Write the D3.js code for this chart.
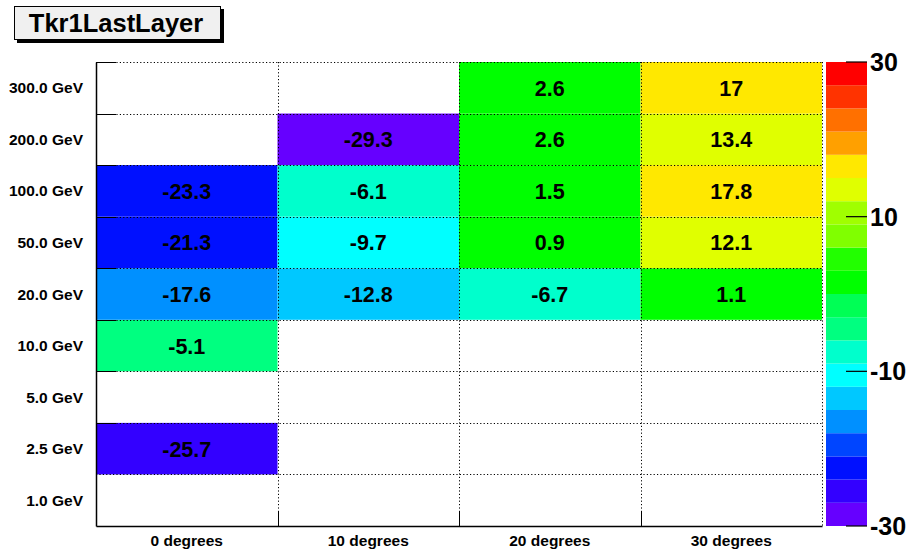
<!DOCTYPE html>
<html><head><meta charset="utf-8">
<script src="https://cdn.jsdelivr.net/npm/d3@7"></script>
<style>body{margin:0;background:#fff}svg{display:block;font-family:"Liberation Sans",Arial,sans-serif}</style>
</head><body>
<svg id="c" width="911" height="555"></svg>
<script>
const title = "Tkr1LastLayer";
const angles = ["0 degrees","10 degrees","20 degrees","30 degrees"];
const energies = ["1.0 GeV","2.5 GeV","5.0 GeV","10.0 GeV","20.0 GeV","50.0 GeV","100.0 GeV","200.0 GeV","300.0 GeV"];
// values per angle, in energy order (bottom to top); null = empty
const deg0  = [null,-25.7,null,-5.1,-17.6,-21.3,-23.3,null,null];
const deg10 = [null,null,null,null,-12.8,-9.7,-6.1,-29.3,null];
const deg20 = [null,null,null,null,-6.7,0.9,1.5,2.6,2.6];
const deg30 = [null,null,null,null,1.1,12.1,17.8,13.4,17];
const zTicks = [-30,-10,10,30];
const zMin = -30, zMax = 30;
const paletteColors = ["#6600ff","#3300ff","#0010ff","#0045ff","#0090ff","#00c8ff","#00ffff","#00ffcc","#00ff80","#00ff55",
                       "#00ff00","#22ff00","#80ff00","#a0ff00","#e0ff00","#ffe800","#ffa000","#ff7000","#ff3300","#ff0000"];

const series = [deg0,deg10,deg20,deg30];
const svg = d3.select("#c");
const L=96, R=822, T=62, B=526;
const x = d3.scaleBand().domain(angles).range([L,R]);
const y = d3.scaleBand().domain(energies).range([B,T]);
const color = d3.scaleQuantize().domain([zMin,zMax]).range(paletteColors);

const cells = [];
series.forEach((s,i)=>s.forEach((v,j)=>{ if(v!==null) cells.push({a:angles[i],e:energies[j],v}); }));

svg.append("g").selectAll("rect").data(cells).join("rect")
  .attr("x",d=>x(d.a)).attr("y",d=>y(d.e)).attr("width",x.bandwidth()).attr("height",y.bandwidth())
  .attr("fill",d=>color(d.v));

// grid (dotted)
const g = svg.append("g").attr("stroke","#000").attr("stroke-width",1).attr("stroke-dasharray","1.2,2.2");
const xb = angles.map(a=>x(a)).slice(1).concat([R]);
const yb = energies.map(e=>y(e));
g.selectAll("line.v").data(xb).join("line").attr("x1",d=>Math.round(d)+0.5).attr("x2",d=>Math.round(d)+0.5).attr("y1",T).attr("y2",B);
g.selectAll("line.h").data(yb).join("line").attr("y1",d=>Math.round(d)+0.5).attr("y2",d=>Math.round(d)+0.5).attr("x1",L).attr("x2",R);

// solid frame left/bottom via axes
const xAxis = svg.append("g").attr("transform",`translate(0,${B})`)
  .call(d3.axisBottom(x).tickSize(0).tickFormat(""));
xAxis.select(".domain").attr("stroke","#000").attr("stroke-width",1.5);
const yAxis = svg.append("g").attr("transform",`translate(${L},0)`)
  .call(d3.axisLeft(y).tickSize(0).tickFormat(""));
yAxis.select(".domain").attr("stroke","#000").attr("stroke-width",1.5);
// tick marks at bin edges
svg.append("g").selectAll("line").data(xb.slice(0,-1)).join("line")
  .attr("x1",d=>Math.round(d)+0.5).attr("x2",d=>Math.round(d)+0.5).attr("y1",B).attr("y2",B-14).attr("stroke","#000");
svg.append("g").selectAll("line").data(yb.slice(1)).join("line")
  .attr("y1",d=>Math.round(d)+0.5).attr("y2",d=>Math.round(d)+0.5).attr("x1",L).attr("x2",L+20).attr("stroke","#000");

// labels
svg.append("g").selectAll("text").data(angles).join("text")
  .attr("x",d=>x(d)+x.bandwidth()/2).attr("y",546).attr("text-anchor","middle")
  .attr("font-size",15.5).attr("font-weight","bold").text(d=>d);
svg.append("g").selectAll("text").data(energies).join("text")
  .attr("x",83).attr("y",d=>y(d)+y.bandwidth()/2+5.5).attr("text-anchor","end")
  .attr("font-size",15.5).attr("font-weight","bold").text(d=>d);

// cell text
svg.append("g").selectAll("text").data(cells).join("text")
  .attr("x",d=>x(d.a)+x.bandwidth()/2).attr("y",d=>y(d.e)+y.bandwidth()/2+8).attr("text-anchor","middle")
  .attr("font-size",21.5).attr("font-weight","bold").text(d=>d.v);

// palette
const pz = d3.scaleLinear().domain([zMin,zMax]).range([B,T]);
const step = (zMax-zMin)/paletteColors.length;
svg.append("g").selectAll("rect").data(paletteColors).join("rect")
  .attr("x",826).attr("width",41)
  .attr("y",(c,i)=>pz(zMin+(i+1)*step)).attr("height",(c,i)=>pz(zMin+i*step)-pz(zMin+(i+1)*step))
  .attr("fill",c=>c);
svg.append("g").selectAll("line").data(zTicks).join("line")
  .attr("x1",846).attr("x2",867).attr("y1",d=>pz(d)).attr("y2",d=>pz(d)).attr("stroke","#000").attr("stroke-width",1.2);
svg.append("g").selectAll("text").data(zTicks).join("text")
  .attr("x",870).attr("y",d=>pz(d)+9).attr("font-size",25).attr("font-weight","bold").text(d=>d);

// title box
svg.append("rect").attr("x",17).attr("y",9).attr("width",207).attr("height",34).attr("fill","#000");
svg.append("rect").attr("x",14.5).attr("y",6.5).attr("width",206).attr("height",33).attr("fill","#f0f0f0").attr("stroke","#000").attr("stroke-width",1);
svg.append("text").attr("x",116).attr("y",32).attr("text-anchor","middle").attr("font-size",25.5).attr("font-weight","bold").text(title);
</script>
</body></html>
